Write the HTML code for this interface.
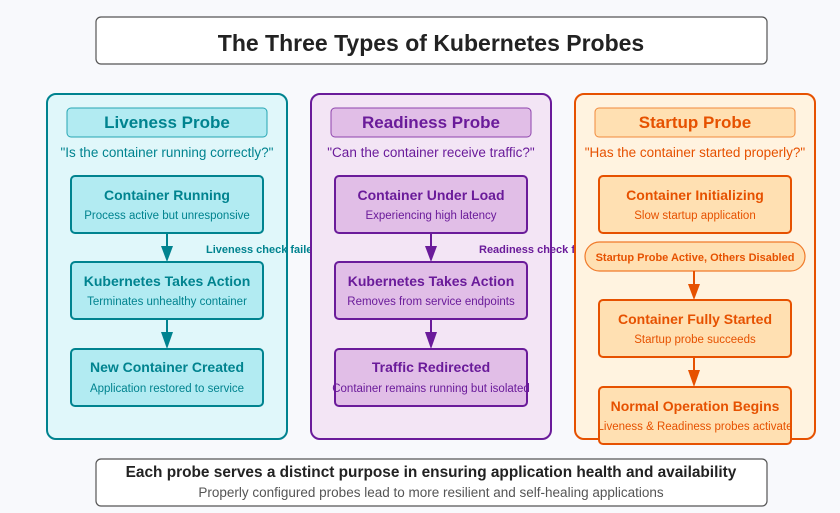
<!DOCTYPE html>
<html><head><meta charset="utf-8"><style>
html,body{margin:0;padding:0;background:#f8f9fc;}
svg{display:block;font-family:"Liberation Sans",Arial,sans-serif;}
</style></head><body>
<svg width="840" height="513" viewBox="0 0 840 513" xmlns="http://www.w3.org/2000/svg">
<rect width="840" height="513" fill="#f8f9fc"/>
<rect x="96" y="17" width="671" height="47" rx="5" fill="#fff" stroke="#555" stroke-width="1.2"/>
<text x="431" y="51" text-anchor="middle" font-size="23" font-weight="bold" fill="#222">The Three Types of Kubernetes Probes</text>

<!-- Liveness -->
<g>
<rect x="47" y="94" width="240" height="345" rx="9" fill="#e0f7fa" stroke="#00838f" stroke-width="2"/>
<rect x="67" y="108" width="200" height="29" rx="4" fill="#b2ebf2" stroke="#26a6b3" stroke-width="1"/>
<text x="167" y="128" text-anchor="middle" font-size="17" font-weight="bold" fill="#00838f">Liveness Probe</text>
<text x="167" y="157" text-anchor="middle" font-size="13.5" fill="#00838f">"Is the container running correctly?"</text>
<g stroke="#00838f" stroke-width="2" fill="#b2ebf2">
<rect x="71" y="176" width="192" height="57" rx="4"/><rect x="71" y="262" width="192" height="57" rx="4"/><rect x="71" y="349" width="192" height="57" rx="4"/>
</g>
<g fill="#00838f" text-anchor="middle">
<text x="167" y="200" font-size="14" font-weight="bold">Container Running</text><text x="167" y="219" font-size="11.5">Process active but unresponsive</text>
<text x="167" y="286" font-size="14" font-weight="bold">Kubernetes Takes Action</text><text x="167" y="305" font-size="11.5">Terminates unhealthy container</text>
<text x="167" y="372" font-size="14" font-weight="bold">New Container Created</text><text x="167" y="392" font-size="11.5">Application restored to service</text>
</g>
<path d="M167,233 V248" stroke="#00838f" stroke-width="2"/><path d="M161,246 L173,246 L167,262 z" fill="#00838f"/>
<path d="M167,319 V334" stroke="#00838f" stroke-width="2"/><path d="M161,332 L173,332 L167,349 z" fill="#00838f"/>
<text x="206" y="253" font-size="11" font-weight="bold" fill="#00838f">Liveness check failed</text>
</g>

<!-- Readiness -->
<g>
<rect x="311" y="94" width="240" height="345" rx="9" fill="#f3e5f5" stroke="#6a1b9a" stroke-width="2"/>
<rect x="331" y="108" width="200" height="29" rx="4" fill="#e1bee7" stroke="#8e44ad" stroke-width="1"/>
<text x="431" y="128" text-anchor="middle" font-size="17" font-weight="bold" fill="#6a1b9a">Readiness Probe</text>
<text x="431" y="157" text-anchor="middle" font-size="13.5" fill="#6a1b9a">"Can the container receive traffic?"</text>
<g stroke="#6a1b9a" stroke-width="2" fill="#e1bee7">
<rect x="335" y="176" width="192" height="57" rx="4"/><rect x="335" y="262" width="192" height="57" rx="4"/><rect x="335" y="349" width="192" height="57" rx="4"/>
</g>
<g fill="#6a1b9a" text-anchor="middle">
<text x="431" y="200" font-size="14" font-weight="bold">Container Under Load</text><text x="431" y="219" font-size="11.5">Experiencing high latency</text>
<text x="431" y="286" font-size="14" font-weight="bold">Kubernetes Takes Action</text><text x="431" y="305" font-size="11.5">Removes from service endpoints</text>
<text x="431" y="372" font-size="14" font-weight="bold">Traffic Redirected</text><text x="431" y="392" font-size="11.5">Container remains running but isolated</text>
</g>
<path d="M431,233 V248" stroke="#6a1b9a" stroke-width="2"/><path d="M425,246 L437,246 L431,262 z" fill="#6a1b9a"/>
<path d="M431,319 V334" stroke="#6a1b9a" stroke-width="2"/><path d="M425,332 L437,332 L431,349 z" fill="#6a1b9a"/>
<text x="479" y="253" font-size="11" font-weight="bold" fill="#6a1b9a">Readiness check failed</text>
</g>

<!-- Startup -->
<g>
<rect x="575" y="94" width="240" height="345" rx="9" fill="#fff3e0" stroke="#e65100" stroke-width="2"/>
<rect x="595" y="108" width="200" height="29" rx="4" fill="#ffe0b2" stroke="#f08a3c" stroke-width="1"/>
<text x="695" y="128" text-anchor="middle" font-size="17" font-weight="bold" fill="#e65100">Startup Probe</text>
<text x="695" y="157" text-anchor="middle" font-size="13.5" fill="#e65100">"Has the container started properly?"</text>
<g stroke="#e65100" stroke-width="2" fill="#ffe0b2">
<rect x="599" y="176" width="192" height="57" rx="4"/><rect x="599" y="300" width="192" height="57" rx="4"/><rect x="599" y="387" width="192" height="57" rx="4"/>
</g>
<rect x="585" y="242" width="220" height="29" rx="14.5" fill="#ffe0b2" stroke="#f07a2a" stroke-width="1.2"/>
<g fill="#e65100" text-anchor="middle">
<text x="695" y="200" font-size="14" font-weight="bold">Container Initializing</text><text x="695" y="219" font-size="11.5">Slow startup application</text>
<text x="695" y="261" font-size="11" font-weight="bold">Startup Probe Active, Others Disabled</text>
<text x="695" y="324" font-size="14" font-weight="bold">Container Fully Started</text><text x="695" y="343" font-size="11.5">Startup probe succeeds</text>
<text x="695" y="411" font-size="14" font-weight="bold">Normal Operation Begins</text><text x="695" y="430" font-size="11.5">Liveness &amp; Readiness probes activate</text>
</g>
<path d="M694,271 V286" stroke="#e65100" stroke-width="2"/><path d="M688,284 L700,284 L694,300 z" fill="#e65100"/>
<path d="M694,357 V372" stroke="#e65100" stroke-width="2"/><path d="M688,370 L700,370 L694,387 z" fill="#e65100"/>
</g>

<rect x="96" y="459" width="671" height="47" rx="5" fill="#fff" stroke="#555" stroke-width="1.2"/>
<text x="431" y="477" text-anchor="middle" font-size="15.4" font-weight="bold" fill="#222">Each probe serves a distinct purpose in ensuring application health and availability</text>
<text x="431" y="497" text-anchor="middle" font-size="13.5" fill="#555">Properly configured probes lead to more resilient and self-healing applications</text>
</svg>
</body></html>
